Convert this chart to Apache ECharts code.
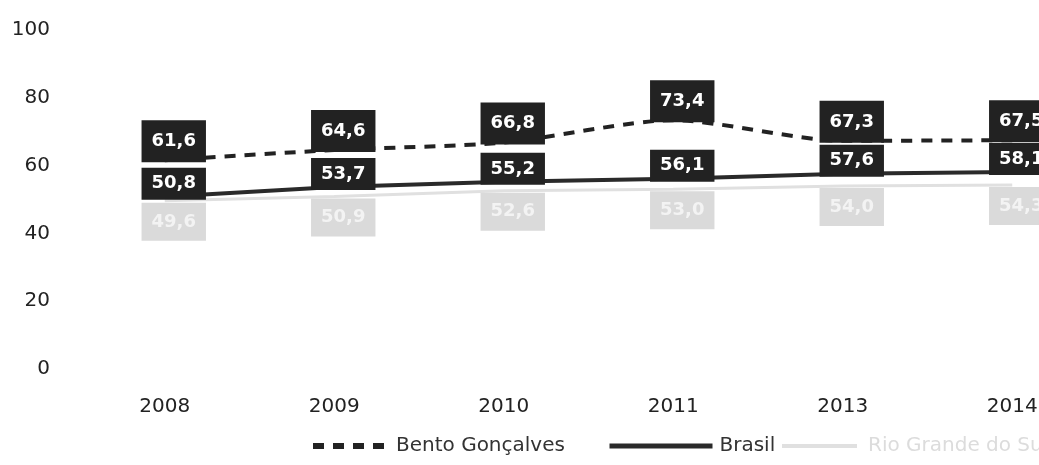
<!DOCTYPE html>
<html>
<head>
<meta charset="utf-8">
<script src="https://cdn.jsdelivr.net/npm/echarts@6/dist/echarts.min.js"></script>
<style>
  html, body { margin: 0; padding: 0; background: #fff; overflow: hidden; }
  /* o gráfico original é cortado à direita (2014 fica na borda) */
  #chart { width: 1097px; height: 465px; }
</style>
</head>
<body>
<div id="chart"></div>
<script>
const years = ['2008', '2009', '2010', '2011', '2013', '2014']
const bento = [61.6, 64.6, 66.8, 73.4, 67.3, 67.5]
const brasil = [50.8, 53.7, 55.2, 56.1, 57.6, 58.1]
// terceira série quase apagada no original: valores lidos pela linha
const rs = [49.6, 50.9, 52.6, 53.0, 54.0, 54.3]
const yTicks = [0, 20, 40, 60, 80, 100]

const fmt = (p) => p.value.toFixed(1).replace('.', ',')

const boxLabel = (pad, off) => ({
  show: true,
  position: 'top',
  distance: 0,
  offset: off,
  formatter: fmt,
  backgroundColor: '#222',
  color: '#fff',
  fontFamily: 'DejaVu Sans',
  fontWeight: 'bold',
  fontSize: 18,
  padding: pad,
})

const legendText = {
  color: '#333',
  fontFamily: 'DejaVu Sans',
  fontSize: 20,
  padding: [0, 0, 0, 6],
}

const chart = echarts.init(document.getElementById('chart'))

chart.setOption({
  backgroundColor: '#fff',
  animation: false,
  grid: { left: 80, right: 0, top: 30, bottom: 96 },
  xAxis: {
    type: 'category',
    data: years,
    boundaryGap: true,
    axisLine: { show: false },
    axisTick: { show: false },
    axisLabel: {
      color: '#222',
      fontFamily: 'DejaVu Sans',
      fontSize: 20,
      margin: 28,
    },
  },
  yAxis: {
    type: 'value',
    min: yTicks[0],
    max: yTicks[yTicks.length - 1],
    interval: 20,
    splitLine: { show: false },
    axisLine: { show: false },
    axisTick: { show: false },
    axisLabel: {
      color: '#222',
      fontFamily: 'DejaVu Sans',
      fontSize: 20,
      margin: 30,
    },
  },
  legend: [
    {
      bottom: 4, left: 305, itemWidth: 72, itemHeight: 10, itemGap: 0,
      itemStyle: { opacity: 0 },
      lineStyle: { width: 6 },
      textStyle: legendText,
      data: ['Bento Gonçalves'],
    },
    {
      bottom: 4, left: 602, itemWidth: 103, itemHeight: 10, itemGap: 0,
      itemStyle: { opacity: 0 },
      lineStyle: { width: 5 },
      textStyle: { ...legendText, padding: [0, 0, 0, 2] },
      data: ['Brasil'],
    },
    {
      bottom: 4, left: 775, itemWidth: 75, itemHeight: 10, itemGap: 0,
      itemStyle: { opacity: 0 },
      lineStyle: { width: 4 },
      textStyle: { ...legendText, color: '#dcdcdc' },
      data: ['Rio Grande do Sul'],
    },
  ],
  series: [
    {
      name: 'Rio Grande do Sul',
      type: 'line',
      data: rs,
      symbol: 'circle',
      symbolSize: 0,
      lineStyle: { color: '#e0e0e0', width: 3 },
      itemStyle: { color: '#e0e0e0' },
      label: {
        show: true,
        position: 'bottom',
        distance: 2,
        offset: [9, 0],
        formatter: fmt,
        backgroundColor: '#dadada',
        color: '#f3f3f3',
        fontFamily: 'DejaVu Sans',
        fontWeight: 'bold',
        fontSize: 18,
        padding: [10, 10],
      },
      z: 1,
    },
    {
      name: 'Brasil',
      type: 'line',
      data: brasil,
      symbol: 'circle',
      symbolSize: 0,
      lineStyle: { color: '#2a2a2a', width: 4 },
      itemStyle: { color: '#2a2a2a' },
      label: boxLabel([7, 10], [9, 3]),
      z: 2,
    },
    {
      name: 'Bento Gonçalves',
      type: 'line',
      data: bento,
      symbol: 'circle',
      symbolSize: 0,
      smooth: 0.25,
      lineStyle: { color: '#222', width: 4, type: [11, 9] },
      itemStyle: { color: '#222' },
      label: boxLabel([12, 10], [9, 2]),
      z: 3,
    },
  ],
})
</script>
</body>
</html>
